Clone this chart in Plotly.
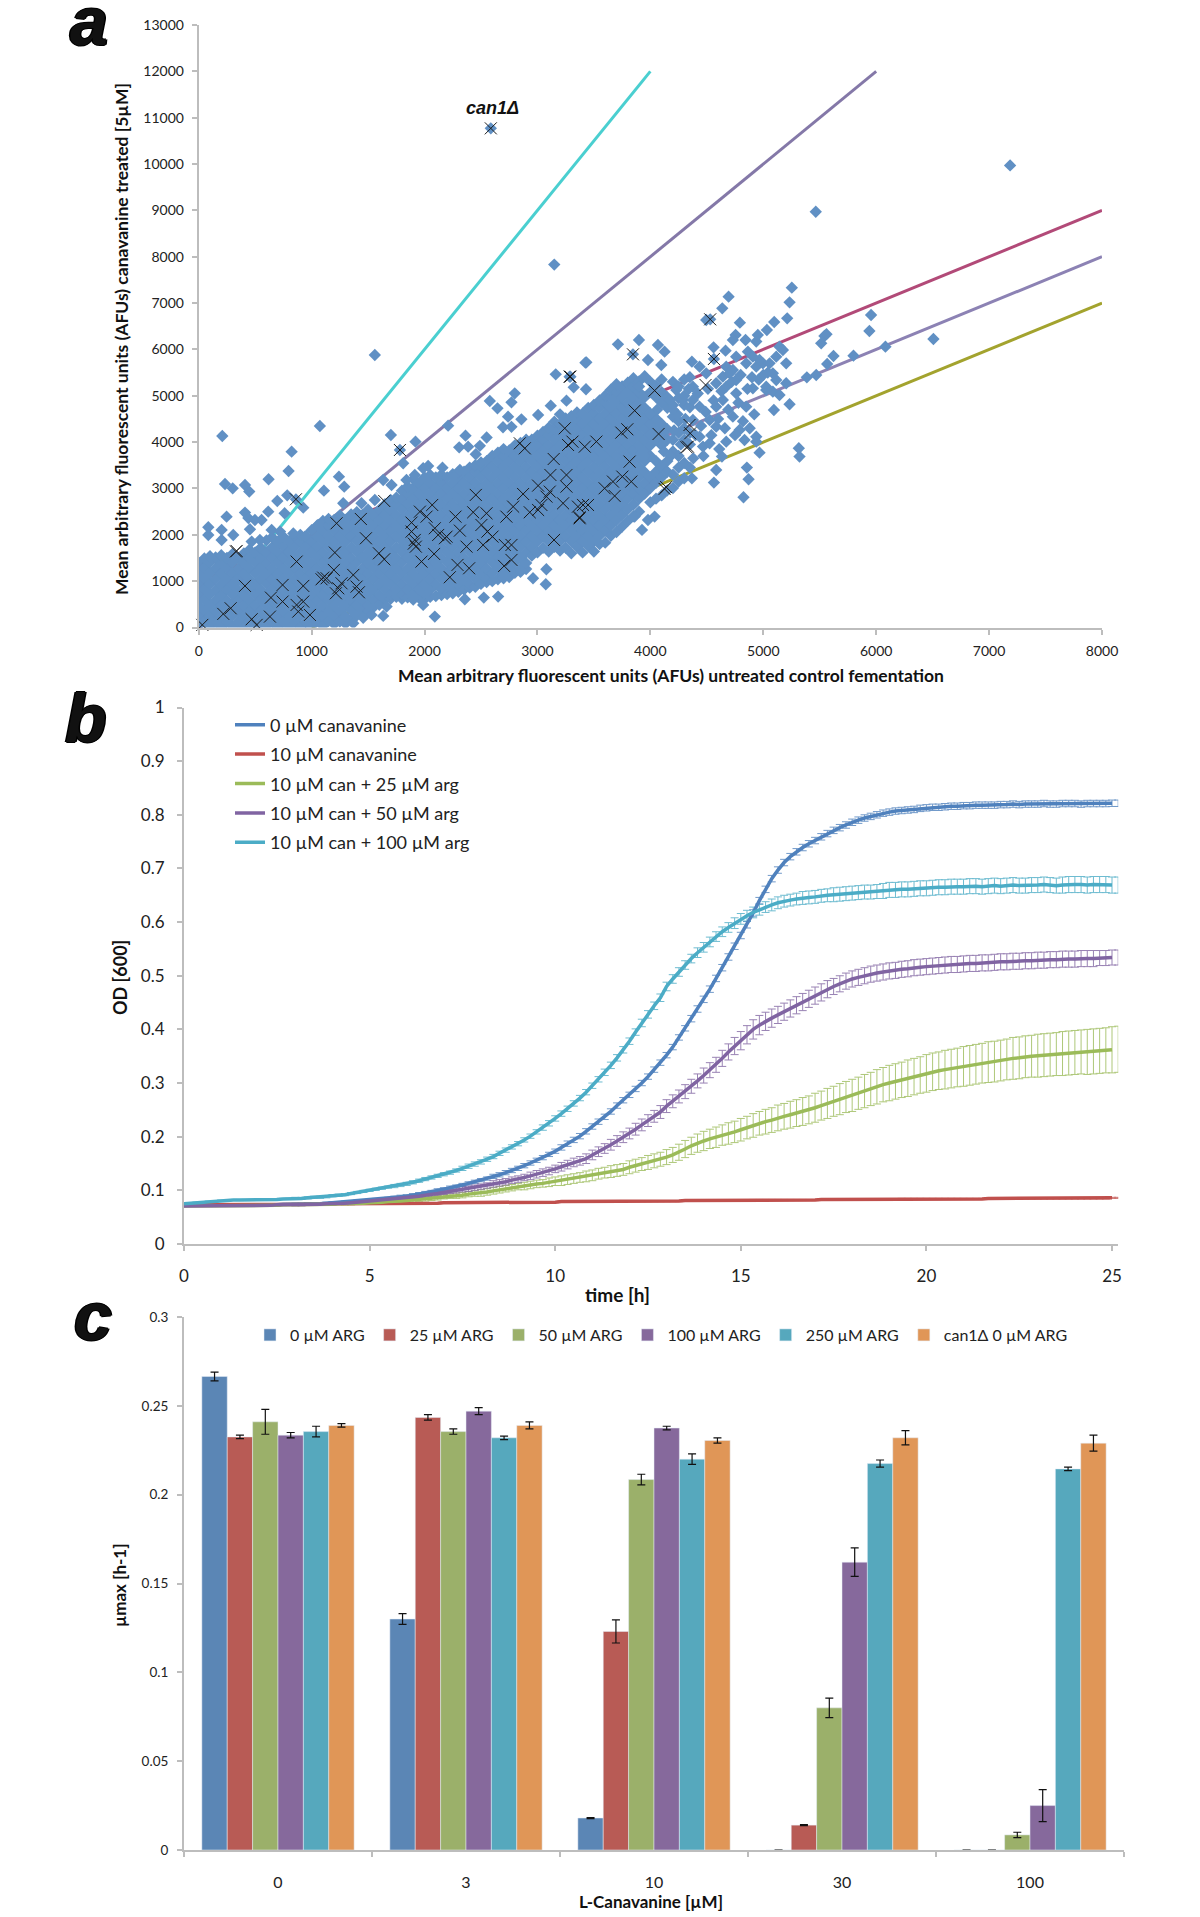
import plotly.graph_objects as go

W, H = 1200, 1917

# ---------- panel a data ----------
ref_line_names = ["3x", "2x", "+1000", "1x", "-1000"]
ref_line_x = [[0, 4000], [0, 6000], [0, 8000], [0, 8000], [1000, 8000]]
ref_line_y = [[0, 12000], [0, 12000], [1000, 9000], [0, 8000], [0, 7000]]
ref_line_colors = ["#4ACFD0", "#8478A8", "#B24A78", "#8C82B4", "#A3A32E"]

cloud_columns = [
(0,[30,260,480,710,950,1170,1400]),(50,[140,370,600,830,1060,1290,1490]),
(100,[20,250,490,720,940,1180,1410,1540]),(150,[130,360,590,810,1050,1280,1510]),
(200,[10,240,470,700,930,1160,1390,1560]),(250,[130,350,580,820,1040,1280,1500]),
(300,[20,250,480,710,930,1170,1400,1590]),(350,[120,360,590,810,1050,1270,1500]),
(400,[20,240,470,700,940,1160,1390,1600]),(450,[130,360,590,820,1040,1280,1510,1680]),
(500,[10,250,470,710,930,1170,1400,1620]),(550,[120,350,590,810,1050,1280,1500,1720]),
(600,[20,240,480,700,940,1160,1390,1620,1880]),(650,[130,360,580,820,1040,1270,1510,1730,1950]),
(700,[10,250,470,700,930,1160,1390,1620,1850]),(750,[130,350,590,810,1050,1280,1510,1740,1960]),
(800,[20,240,480,700,940,1170,1400,1630,1860]),(850,[130,360,580,820,1050,1280,1510,1740,1970]),
(900,[10,250,470,710,930,1160,1400,1620,1850,2000]),(950,[120,350,590,810,1050,1280,1510,1740,1970]),
(1000,[20,240,480,700,930,1170,1390,1630,1860,2100]),(1050,[140,360,590,820,1050,1270,1510,1740,1970,2200]),
(1100,[30,250,470,700,940,1160,1390,1620,1860,2090,2300]),(1150,[140,360,590,810,1050,1280,1500,1740,1970,2200,2340]),
(1200,[70,250,480,700,930,1170,1400,1630,1860,2090,2320]),(1250,[130,360,590,820,1040,1280,1510,1740,1970,2200,2420]),
(1300,[80,240,470,710,940,1160,1390,1620,1860,2090,2320]),(1350,[150,370,590,810,1050,1280,1500,1730,1970,2200,2440]),
(1400,[260,480,700,930,1170,1400,1630,1860,2090,2320,2490]),(1450,[370,590,820,1050,1270,1510,1740,1970,2200,2430]),
(1500,[350,480,710,930,1160,1390,1620,1860,2090,2320,2540]),(1550,[440,590,820,1050,1280,1500,1740,1970,2200,2430]),
(1600,[490,700,930,1170,1390,1630,1860,2090,2310,2540]),(1650,[600,820,1040,1280,1510,1740,1970,2200,2430,2660]),
(1700,[620,710,940,1160,1390,1620,1860,2090,2310,2540,2750]),(1750,[660,820,1050,1280,1500,1730,1970,2200,2430,2660,2800]),
(1800,[620,710,930,1170,1400,1630,1860,2090,2320,2550,2780,2950]),(1850,[650,820,1050,1270,1510,1740,1970,2200,2430,2660,2890,3040]),
(1900,[600,710,940,1160,1390,1620,1860,2090,2320,2550,2780,3010,3200]),(1950,[640,820,1050,1280,1500,1740,1970,2200,2430,2660,2890,3120]),
(2000,[610,720,930,1170,1400,1630,1860,2090,2320,2550,2780,3010,3240]),(2050,[660,820,1040,1280,1510,1740,1970,2190,2430,2660,2890,3120,3290]),
(2100,[680,930,1160,1390,1620,1860,2090,2320,2550,2780,3010,3240]),(2150,[700,820,1050,1270,1500,1730,1970,2200,2430,2660,2890,3120,3300]),
(2200,[720,940,1170,1400,1630,1860,2090,2320,2550,2780,3010,3240]),(2250,[740,830,1050,1280,1510,1740,1970,2200,2430,2660,2890,3120,3310]),
(2300,[770,930,1160,1390,1620,1860,2090,2320,2550,2780,3010,3240,3350]),(2350,[820,1040,1280,1500,1740,1970,2200,2430,2660,2890,3120,3360]),
(2400,[860,930,1170,1400,1630,1860,2090,2320,2550,2780,3010,3240,3450]),(2450,[880,1050,1280,1510,1740,1970,2200,2430,2660,2890,3120,3360,3500]),
(2500,[940,1160,1390,1620,1860,2090,2320,2550,2780,3010,3240,3470,3560]),(2550,[980,1050,1270,1500,1730,1970,2200,2430,2660,2890,3120,3360,3590]),
(2600,[1000,1170,1400,1630,1860,2090,2320,2550,2780,3010,3240,3470,3700]),(2650,[1040,1280,1510,1740,1970,2200,2430,2660,2890,3120,3360,3590,3770]),
(2700,[1060,1160,1390,1620,1860,2090,2320,2550,2780,3010,3240,3470,3700,3850]),(2750,[1090,1280,1500,1730,1970,2200,2430,2660,2890,3120,3350,3590,3820]),
(2800,[1180,1400,1630,1860,2090,2320,2550,2780,3010,3240,3470,3700,3930]),(2850,[1200,1270,1510,1740,1970,2200,2430,2660,2890,3120,3360,3590,3820,3980]),
(2900,[1260,1390,1620,1860,2090,2320,2550,2780,3010,3240,3470,3700,3930,4050]),(2950,[1550,1740,1970,2200,2430,2660,2890,3120,3350,3590,3820,4050]),
(3000,[1620,1860,2090,2320,2550,2780,3010,3240,3470,3700,3930,4140]),(3050,[1720,1970,2200,2430,2660,2890,3120,3360,3590,3820,4050,4220]),
(3100,[1640,1860,2090,2320,2550,2780,3010,3240,3470,3700,3930,4160,4310]),(3150,[1740,1970,2200,2430,2660,2890,3120,3350,3590,3820,4050,4280,4440]),
(3200,[1660,1860,2090,2320,2550,2780,3010,3240,3470,3700,3930,4160,4390,4600]),(3250,[1720,1970,2200,2430,2660,2890,3120,3360,3590,3820,4050,4280,4510]),
(3300,[1600,1860,2090,2320,2550,2780,3010,3240,3470,3700,3930,4160,4390,4560]),(3350,[1740,1970,2200,2430,2660,2890,3120,3350,3590,3820,4050,4280,4510,4640]),
(3400,[1620,1860,2090,2320,2550,2780,3010,3240,3470,3700,3930,4160,4390,4620]),(3450,[1760,1980,2200,2430,2660,2890,3120,3360,3590,3820,4050,4280,4510,4740]),
(3500,[1640,1860,2090,2320,2550,2780,3010,3240,3470,3700,3930,4160,4390,4620,4800]),(3550,[1800,1980,2200,2430,2660,2890,3120,3350,3590,3820,4050,4280,4510,4740,4900]),
(3600,[1830,2090,2320,2550,2780,3010,3240,3470,3700,3930,4160,4390,4620,4850,5000]),(3650,[1980,2200,2430,2660,2890,3120,3360,3590,3820,4050,4280,4510,4740,4970,5130]),
(3700,[2060,2320,2550,2780,3010,3240,3470,3700,3930,4160,4390,4620,4850,5080,5250]),(3750,[2180,2430,2660,2890,3120,3350,3590,3820,4050,4280,4510,4740,4970,5200]),
(3800,[2300,2550,2780,3010,3240,3470,3700,3930,4160,4390,4620,4850,5080,5280]),(3850,[2400,2650,2890,3120,3360,3590,3820,4050,4280,4510,4740,4970,5200,5380]),
(3900,[2500,2780,3010,3240,3470,3700,3930,4160,4390,4620,4850,5080,5310]),(3950,[2890,3120,3350,3590,3820,4050,4280,4510,4740,4970,5420]),
(4000,[2700,3010,3240,3700,3930,4160,4390,4620,5080,5300]),(4050,[2780,3120,3360,3590,4050,4280,4510,4970,5220]),
(4100,[2850,3240,3470,3930,4160,4390,4850,5080,5350]),(4150,[2960,3360,3590,4050,4280,4740,4970]),
(4200,[3010,3300,3800,4050,4550,4800,5300]),(4250,[3150,3450,3700,4200,4450,4950,5200]),
(4300,[3220,3550,4050,4300,4800,5350]),(4350,[3450,3950,4200,4750,5400]),
]
sparse_points = [
(2587,10770),(7186,9970),(5465,8970),(3149,7830),(1560,5880),(209,4132),(1073,4348),(823,3794),(796,3377),(619,3198),
(233,3097),(301,3003),(410,3075),(448,2932),(1242,3255),(1289,3039),(1109,2953),(1702,4154),(1782,3830),(1920,4010),
(1811,3543),(2209,4355),(2363,4140),(2307,3888),(2386,3902),(2454,3737),(2490,3920),(2550,4100),(2578,4887),(2646,4729),
(2770,4858),(2799,5053),(2740,4549),(2858,4492),(2695,4320),(2770,4330),(3118,4787),(3162,5462),(3292,5412),(3425,5714),
(3257,4894),(3321,5182),(3430,5140),(3006,4585),(696,2730),(784,2852),(861,2766),(761,2464),(926,2586),(247,2392),
(410,2479),(616,2500),(557,2320),(440,2360),(498,2320),(85,2162),(85,1997),(203,2105),(306,1997),(454,2119),
(203,1889),(469,1853),(542,1889),(646,2105),(720,2070),(838,2030),(941,1961),(1059,2212),(1221,2248),(1280,2680),
(1442,2680),(1560,2752),(1634,3183),(1708,3075),(1840,3183),(1914,3291),(1988,3435),(2032,3485),(2159,3449),(2313,3399),
(2091,235),(2357,609),(2525,645),(2652,667),(2961,1062),(3074,933),(3079,1256),(1988,487),(1664,451),(1634,250),
(1531,272),(1369,92),(1457,210),(5253,7332),(5233,7016),(5212,6671),(4693,7138),(4637,6886),(4495,6635),(4530,6649),
(4793,6577),(5097,6592),(5032,6419),(4952,6311),(4755,6311),(4731,6203),(4843,6203),(4938,6170),(5955,6743),(5940,6398),
(6507,6225),(5542,6290),(5513,6131),(5560,6330),(5622,5858),(5799,5865),(6082,6060),(5566,5686),(5469,5448),(5386,5398),
(5233,4816),(5094,4693),(5315,3867),(5321,3687),(4967,3773),(4583,3399),(4855,3450),(4870,3198),(4563,3126),(4825,2810),
(4634,3687),(4368,3219),(3926,2105),(4038,2393),(3979,2320),(3861,2393),(3713,6110),(3899,6203),(4067,6096),(4126,5952),
(3979,5772),(4097,5664),(3846,5894),(3433,5722),(3285,5413),(4368,5736),(4560,6045),(4666,5973),(4563,5794),(4864,5952),
(4760,5844),(4377,4478),(4436,4118),(4466,3903),(4436,4765),(4525,4478),(4583,4334),(4583,4765),(4642,4909),(4731,4550),
(4790,4262),(4834,4046),(4938,4118),(4938,4010),(4672,4010),(4525,3975),(4436,5628),(4495,5484),(4377,5197),(4230,5125),
(4289,4909),(4170,4909),(4377,4909),(4672,5628),(4731,5556),(4642,5412),(4760,5341),(4702,5484),(4849,5700),(4938,5628),
(4997,5700),(5056,5700),(4967,5772),(4908,5844),(5144,6060),(5174,5988),(5115,5844),(5203,5700),(5085,5484),(5115,5341),
(5026,5197),(5085,5089),(5144,5017),(5026,5125),(5203,5269),(4908,5161),(4760,5053),(4849,4765),(4672,5197),(4583,5269),
(4180,3700),(4210,4250),(4240,4600),(4270,3950),(4310,4500),(4340,5150),(4380,3650),(4400,4150),(4420,5050),(4450,4350),
(4470,3700),(4490,4650),(4510,5150),(4540,4150),(4560,4900),(4600,4500),(4610,3850),(4630,5100),(4660,4300),(4690,4700),
(4720,5300),(4750,4150),(4780,4850),(4800,5450),(4820,4450),(4860,5150),(4880,4300),(4900,5400),(4920,4600),(4960,5350),
(5000,5450),(5040,5500),(4200,4700),(4300,5000),(4120,3800),(4060,4700),(4000,4600),(3950,3700),(3900,5200),
]
cross_points = [
(2587,10770),(32,56),(218,293),(283,415),(336,1652),(330,1640),(410,897),(469,178),(513,56),(631,235),(640,645),(743,918),
(743,559),(867,1422),(861,2766),(867,487),(926,559),(882,343),(985,271),(926,897),(1103,1076),(1088,1040),(1133,1062),(1197,1242),
(1206,1616),(1221,2248),(1215,739),(1236,846),(1265,954),(1369,1134),(1398,882),(1419,760),(1436,2342),(1643,2730),(1481,1925),
(1596,1601),(1643,1472),(1959,2500),(2068,2644),(2018,2392),(1885,2263),(1885,2069),(1914,1889),(1923,1745),(1905,1810),(1973,1422),
(2085,1587),(2091,2141),(2121,1997),(2180,1925),(2195,1960),(2313,2090),(2274,2392),(2454,2860),(2431,2486),(2549,2464),(2504,2213),
(2557,2069),(2602,1961),(2519,1781),(2372,1745),(2292,1350),(2395,1278),(2224,1084),(2711,1781),(2770,1781),(2770,1458),(2705,1328),
(2725,2392),(2785,2608),(2873,2881),(2844,3974),(2888,3866),(3144,3636),(3115,3291),(3006,3061),(3109,2932),(3080,2824),(3035,2644),
(2932,2486),(3006,2536),(3242,4298),(3310,4010),(3271,3938),(3419,3902),(3257,3291),(3257,3039),(3227,2680),(3374,2356),(3404,2644),
(3147,1889),(3846,5894),(3285,5413),(4530,6649),(4563,5794),(4038,5111),(4489,5233),(3861,4679),(3522,4011),(3743,4205),(3796,4277),
(4073,4176),(4347,4370),(4353,4190),(4333,3903),(4320,3890),(3816,3579),(3752,3255),(3669,3148),(3595,3004),(3831,3148),(3684,2838),
(4126,2990),(4140,3030),(3448,2644),(3359,2608),(3374,2378),(1782,3830),(3292,5412),
]

# ---------- panel b data (one reading per 10 min) ----------
sample_hours = [k / 6 for k in range(152)]
growth_names = ["0 µM canavanine", "10 µM canavanine", "10 µM can + 25 µM arg", "10 µM can + 50 µM arg", "10 µM can + 100 µM arg"]
growth_colors = ["#4F81BD", "#C0504D", "#9BBB59", "#8064A2", "#4BACC6"]
od_0_can = [
.072,.072,.072,.072,.072,.072, .072,.072,.073,.073,.073,.073, .073,.073,.073,.073,.074,.074,
.074,.074,.075,.075,.075,.076, .077,.077,.078,.079,.080,.081, .082,.083,.084,.085,.086,.088,
.089,.091,.093,.095,.097,.100, .102,.105,.107,.110,.113,.116, .119,.122,.126,.129,.133,.137,
.141,.146,.151,.156,.161,.167, .173,.180,.187,.194,.201,.210, .219,.228,.237,.247,.258,.268,
.278,.289,.300,.312,.325,.338, .352,.367,.385,.402,.420,.438, .456,.475,.495,.515,.535,.555,
.575,.595,.617,.640,.661,.681, .697,.711,.722,.731,.739,.746, .752,.759,.765,.771,.776,.781,
.786,.790,.794,.797,.800,.803, .805,.807,.808,.809,.810,.812, .813,.814,.814,.815,.816,.816,
.817,.817,.818,.818,.818,.818, .819,.819,.820,.819,.820,.820, .820,.821,.820,.820,.821,.821,
.821,.820,.821,.821,.821,.821, .8215,.8215]
od_10_can = [
.073,.073,.073,.073,.073,.073, .073,.073,.073,.073,.073,.073, .074,.074,.074,.074,.074,.074,
.074,.074,.074,.074,.074,.074, .075,.075,.075,.075,.075,.075, .075,.075,.075,.075,.076,.076,
.076,.076,.076,.076,.076,.076, .077,.077,.077,.077,.077,.077, .077,.077,.078,.078,.078,.078,
.078,.078,.078,.078,.078,.078, .078,.079,.079,.079,.079,.079, .079,.079,.079,.079,.079,.079,
.080,.080,.080,.080,.080,.080, .080,.080,.080,.081,.081,.081, .081,.081,.081,.081,.081,.081,
.081,.081,.082,.082,.082,.082, .082,.082,.082,.082,.082,.082, .082,.083,.083,.083,.083,.083,
.083,.083,.083,.083,.083,.083, .083,.083,.084,.084,.084,.084, .084,.084,.084,.084,.084,.084,
.084,.084,.084,.084,.085,.085, .085,.085,.085,.085,.085,.085, .085,.085,.085,.085,.085,.085,
.085,.085,.085,.085,.085,.085, .086,.086]
od_25_arg = [
.071,.071,.071,.071,.071,.071, .071,.071,.071,.072,.072,.072, .072,.072,.072,.072,.073,.073,
.073,.073,.073,.074,.074,.074, .074,.075,.075,.075,.076,.076, .077,.077,.078,.079,.079,.080,
.081,.082,.083,.084,.085,.086, .088,.089,.090,.091,.093,.094, .095,.097,.099,.101,.103,.105,
.107,.108,.110,.112,.113,.115, .117,.118,.120,.122,.124,.126, .128,.131,.133,.135,.137,.139,
.143,.146,.149,.152,.155,.158, .162,.166,.171,.177,.183,.188, .192,.196,.199,.203,.206,.209,
.213,.217,.221,.225,.228,.231, .235,.238,.241,.244,.247,.250, .254,.258,.262,.266,.270,.274,
.277,.281,.285,.289,.293,.297, .300,.303,.306,.309,.312,.315, .318,.321,.323,.325,.327,.329,
.331,.333,.335,.337,.339,.340, .342,.344,.346,.347,.349,.350, .351,.352,.353,.354,.355,.356,
.357,.358,.358,.359,.360,.361, .362,.363]
od_50_arg = [
.071,.071,.071,.071,.071,.071, .071,.071,.072,.072,.072,.072, .072,.072,.072,.073,.073,.073,
.073,.073,.074,.074,.074,.075, .075,.076,.076,.077,.078,.079, .080,.081,.082,.083,.084,.085,
.086,.088,.089,.091,.092,.094, .096,.098,.100,.102,.103,.105, .107,.109,.112,.114,.116,.119,
.121,.124,.127,.130,.133,.136, .140,.144,.148,.152,.155,.159, .166,.172,.178,.185,.192,.199,
.206,.214,.222,.230,.238,.246, .257,.266,.275,.284,.294,.304, .314,.324,.334,.346,.358,.369,
.379,.390,.400,.408,.415,.421, .427,.433,.439,.445,.451,.457, .463,.469,.475,.480,.485,.490,
.494,.497,.500,.503,.505,.507, .509,.510,.512,.513,.515,.516, .517,.518,.519,.520,.521,.521,
.522,.523,.523,.524,.524,.525, .526,.526,.527,.527,.528,.528, .529,.529,.530,.530,.531,.531,
.531,.532,.532,.532,.533,.533, .534,.534]
od_100_arg = [
.075,.076,.077,.078,.079,.080, .081,.081,.082,.082,.082,.082, .083,.083,.083,.083,.084,.084,
.085,.085,.086,.087,.087,.088, .090,.091,.092,.094,.096,.098, .100,.102,.104,.106,.108,.110,
.112,.115,.118,.121,.124,.127, .130,.133,.137,.141,.145,.149, .153,.158,.163,.169,.175,.181,
.187,.194,.201,.209,.217,.225, .234,.243,.252,.262,.272,.283, .295,.307,.320,.333,.347,.362,
.378,.395,.412,.428,.444,.459, .480,.494,.507,.520,.532,.543, .553,.563,.573,.582,.590,.598,
.606,.612,.618,.623,.628,.632, .636,.639,.641,.643,.645,.646, .647,.649,.650,.651,.652,.653,
.654,.655,.656,.656,.657,.658, .660,.660,.661,.661,.662,.663, .663,.664,.665,.665,.666,.666,
.666,.667,.667,.666,.667,.668, .667,.668,.669,.668,.668,.669, .669,.670,.669,.668,.669,.670,
.670,.670,.669,.670,.670,.670, .669,.669]
sd_0_can = [
.001,.001,.001,.001,.001,.001, .001,.001,.001,.001,.001,.001, .001,.001,.001,.001,.001,.001,
.002,.002,.002,.002,.002,.002, .002,.002,.002,.002,.002,.002, .002,.002,.002,.002,.003,.003,
.003,.003,.003,.003,.003,.003, .003,.003,.003,.003,.003,.003, .003,.003,.004,.004,.004,.004,
.004,.004,.004,.004,.004,.004, .004,.005,.005,.005,.005,.005, .005,.005,.005,.005,.005,.005,
.005,.005,.005,.005,.005,.005, .005,.005,.005,.005,.006,.006, .006,.006,.006,.006,.006,.006,
.006,.006,.006,.006,.006,.006, .006,.006,.006,.006,.006,.006, .006,.006,.006,.006,.006,.006,
.006,.006,.006,.006,.006,.006, .006,.006,.006,.006,.006,.006, .006,.006,.006,.006,.006,.006,
.006,.006,.006,.006,.006,.006, .006,.006,.006,.006,.006,.006, .006,.006,.006,.006,.006,.006,
.006,.006,.006,.006,.006,.006, .006,.006]
sd_10_can = [
.001,.001,.001,.001,.001,.001, .001,.001,.001,.001,.001,.001, .001,.001,.001,.001,.001,.001,
.001,.001,.001,.001,.001,.001, .001,.001,.001,.001,.001,.001, .001,.001,.001,.001,.001,.001,
.001,.001,.001,.001,.001,.001, .001,.001,.001,.001,.001,.001, .001,.001,.001,.001,.001,.001,
.001,.001,.001,.001,.001,.001, .001,.001,.001,.001,.001,.001, .001,.001,.001,.001,.001,.001,
.001,.001,.001,.001,.001,.001, .001,.001,.001,.001,.001,.001, .001,.001,.001,.001,.001,.001,
.001,.001,.001,.001,.001,.001, .001,.001,.001,.001,.001,.001, .001,.001,.001,.001,.001,.001,
.001,.001,.001,.001,.001,.001, .001,.001,.001,.001,.001,.001, .001,.001,.001,.001,.001,.001,
.001,.001,.001,.001,.001,.001, .001,.001,.001,.001,.001,.001, .001,.001,.001,.001,.001,.001,
.001,.001,.001,.001,.001,.001, .001,.001]
sd_25_arg = [
.001,.001,.001,.001,.001,.001, .001,.001,.001,.001,.001,.001, .001,.001,.001,.001,.001,.001,
.001,.001,.001,.001,.001,.001, .001,.001,.002,.002,.002,.002, .003,.003,.003,.003,.003,.003,
.004,.004,.004,.004,.004,.004, .004,.004,.005,.005,.005,.005, .006,.006,.006,.006,.006,.006,
.006,.007,.007,.007,.007,.008, .008,.009,.009,.009,.009,.010, .010,.010,.010,.011,.011,.011,
.012,.012,.012,.013,.013,.013, .014,.014,.015,.016,.016,.017, .018,.018,.019,.019,.020,.020,
.021,.021,.022,.022,.023,.023, .024,.024,.025,.025,.026,.026, .027,.027,.028,.028,.029,.029,
.030,.030,.031,.031,.032,.032, .033,.033,.033,.034,.034,.034, .035,.035,.035,.036,.036,.036,
.037,.037,.037,.037,.038,.038, .038,.038,.039,.039,.039,.039, .040,.040,.040,.040,.041,.041,
.041,.041,.042,.042,.042,.042, .043,.043]
sd_50_arg = [
.001,.001,.001,.001,.001,.001, .001,.001,.001,.001,.001,.001, .001,.001,.001,.001,.001,.001,
.002,.002,.002,.002,.002,.002, .002,.002,.002,.002,.002,.002, .002,.002,.003,.003,.003,.003,
.003,.003,.004,.004,.004,.004, .004,.004,.005,.005,.005,.005, .005,.005,.006,.006,.006,.006,
.006,.006,.007,.007,.007,.007, .007,.008,.008,.008,.008,.009, .009,.009,.009,.010,.010,.010,
.010,.011,.011,.011,.011,.012, .012,.012,.012,.013,.013,.013, .014,.014,.014,.015,.015,.016,
.017,.017,.018,.018,.017,.017, .016,.016,.016,.016,.016,.016, .016,.016,.016,.015,.015,.015,
.015,.015,.015,.015,.015,.015, .015,.015,.015,.015,.015,.015, .015,.015,.015,.015,.015,.015,
.015,.015,.015,.015,.015,.015, .015,.015,.015,.015,.015,.015, .015,.015,.015,.015,.015,.015,
.015,.015,.015,.015,.014,.014, .014,.014]
sd_100_arg = [
.001,.001,.001,.001,.001,.001, .001,.001,.001,.001,.001,.001, .001,.001,.001,.001,.001,.001,
.002,.002,.002,.002,.002,.002, .002,.002,.002,.002,.002,.002, .002,.002,.002,.002,.003,.003,
.003,.003,.003,.003,.003,.003, .003,.003,.003,.004,.004,.004, .004,.004,.004,.004,.004,.004,
.004,.004,.004,.004,.005,.005, .005,.005,.005,.005,.005,.005, .005,.005,.006,.006,.006,.006,
.006,.006,.007,.007,.007,.007, .008,.008,.008,.008,.008,.009, .009,.009,.009,.009,.009,.010,
.010,.010,.010,.010,.010,.011, .011,.011,.011,.011,.012,.012, .012,.012,.012,.013,.013,.013,
.013,.013,.013,.013,.013,.014, .014,.014,.014,.014,.014,.014, .014,.014,.014,.014,.014,.014,
.014,.014,.014,.014,.014,.014, .014,.014,.014,.014,.014,.014, .014,.014,.014,.014,.015,.015,
.015,.015,.015,.015,.015,.015, .015,.015]
od_series = [od_0_can, od_10_can, od_25_arg, od_50_arg, od_100_arg]
sd_series = [sd_0_can, sd_10_can, sd_25_arg, sd_50_arg, sd_100_arg]

# ---------- panel c data ----------
canavanine_labels = ["0", "3", "10", "30", "100"]
arg_names = ["0 µM ARG", "25 µM ARG", "50 µM ARG", "100 µM ARG", "250 µM ARG", "can1Δ 0 µM ARG"]
arg_colors = ["#5B86B5", "#B85B55", "#9BB06A", "#86699C", "#56A8BD", "#E09657"]
umax_values = [
    [.2665, .130, .018, 0, 0],
    [.2325, .2435, .123, .014, 0],
    [.241, .2355, .2085, .080, .0085],
    [.2335, .247, .2375, .162, .025],
    [.2355, .232, .220, .2175, .2145],
    [.239, .239, .2305, .232, .229],
]
umax_errors = [
    [.0025, .003, .0003, 0, 0],
    [.001, .0015, .0065, .0003, 0],
    [.007, .0015, .003, .0055, .0015],
    [.0015, .002, .001, .008, .009],
    [.003, .001, .003, .002, .001],
    [.001, .002, .0015, .004, .0045],
]

# ---------- figure ----------
def dx(a, b): return [a / W, b / W]
def dy(top, bottom): return [1 - bottom / H, 1 - top / H]
FONT = "Lato"
INK = "#222222"
AXIS = "#BDBDBD"

fig = go.Figure()
for name, xs, ys, col in zip(ref_line_names, ref_line_x, ref_line_y, ref_line_colors):
    fig.add_trace(go.Scatter(x=xs, y=ys, mode="lines", name=name, showlegend=False,
                             line=dict(color=col, width=3), xaxis="x", yaxis="y"))
cloud_x = [x for x, ys in cloud_columns for _ in ys] + [p[0] for p in sparse_points]
cloud_y = [y for _, ys in cloud_columns for y in ys] + [p[1] for p in sparse_points]
fig.add_trace(go.Scatter(x=cloud_x, y=cloud_y, mode="markers", showlegend=False,
                         marker=dict(symbol="diamond", size=9.5, color="#6090C4"), xaxis="x", yaxis="y"))
fig.add_trace(go.Scatter(x=[p[0] for p in cross_points], y=[p[1] for p in cross_points], mode="markers",
                         showlegend=False, cliponaxis=False,
                         marker=dict(symbol="x-thin", size=12, line=dict(color="#1A1A1A", width=1)),
                         xaxis="x", yaxis="y"))

for name, col, ods, sds in zip(growth_names, growth_colors, od_series, sd_series):
    fig.add_trace(go.Scatter(x=sample_hours, y=ods, mode="markers", showlegend=False, cliponaxis=False,
                             marker=dict(size=1, color=col, opacity=0),
                             error_y=dict(type="data", array=sds, color=col, thickness=1, width=4),
                             opacity=0.8, xaxis="x2", yaxis="y2"))
for name, col, ods in zip(growth_names, growth_colors, od_series):
    fig.add_trace(go.Scatter(x=sample_hours[:151], y=ods[:151], mode="lines", name=name, legend="legend", legendgroup=name,
                             line=dict(color=col, width=3.5), xaxis="x2", yaxis="y2"))

for name, col, vals, errs in zip(arg_names, arg_colors, umax_values, umax_errors):
    fig.add_trace(go.Bar(x=canavanine_labels, y=vals, name=name, legend="legend2", marker=dict(color=col),
                         error_y=dict(type="data", array=errs, color="#111111", thickness=1.2, width=4),
                         xaxis="x3", yaxis="y3"))

def axis(domain, anchor, size, standoff, **kw):
    return dict(domain=domain, anchor=anchor, showgrid=False, zeroline=False, showline=True,
                linecolor=AXIS, linewidth=2, ticks="outside", ticklen=5, tickcolor=AXIS, tickwidth=1.5,
                ticklabelstandoff=standoff,
                tickfont=dict(family=FONT, size=size, color=INK), **kw)

def text(px, py, s, size, angle=0, family=FONT, **font):
    return dict(x=px / W, y=1 - py / H, xref="paper", yref="paper", text=s, showarrow=False, textangle=angle,
                xanchor="center", yanchor="middle", font=dict(family=family, size=size, color="#111111", **font))

THICK = "1.5px 0 0 #000, -1.5px 0 0 #000, 0 1px 0 #000, 0 -1px 0 #000"
annotations = [
    text(671, 675, "Mean arbitrary fluorescent units (AFUs) untreated control fementation", 17.5, weight="bold"),
    text(121, 339, "Mean arbitrary fluorescent units (AFUs) canavanine treated [5µM]", 17.5, angle=-90, weight="bold"),
    text(617, 1294, "time [h]", 19, weight="bold"),
    text(120, 978, "OD [600]", 18, angle=-90, weight="bold"),
    text(651, 1901, "L-Canavanine [µM]", 17, weight="bold"),
    text(119, 1585, "µmax [h-1]", 17, angle=-90, weight="bold"),
    text(89, 21, "a", 68, family="Liberation Sans", weight="bold", style="italic", shadow=THICK),
    text(86, 718, "b", 68, family="Liberation Sans", weight="bold", style="italic", shadow=THICK),
    text(93, 1316, "c", 68, family="Liberation Sans", weight="bold", style="italic", shadow=THICK),
    dict(x=2600, y=11200, xref="x", yref="y", text="can1Δ", showarrow=False,
         font=dict(family="Liberation Sans", size=18, weight="bold", style="italic", color="#111111")),
]

fig.update_layout(
    width=W, height=H, margin=dict(l=0, r=0, t=0, b=0, autoexpand=False), paper_bgcolor="white", plot_bgcolor="white",
    barmode="group", bargap=0.19, bargroupgap=0, annotations=annotations,
    xaxis=axis(dx(198.7, 1102), "y", 14, 5, range=[0, 8000], dtick=1000, tickformat="d"),
    yaxis=axis(dy(25, 627.5), "x", 14, 5, range=[0, 13000], dtick=1000, tickformat="d"),
    xaxis2=axis(dx(184, 1118.2), "y2", 17, 11, range=[0, sample_hours[-1]], dtick=5),
    yaxis2=axis(dy(707.5, 1244), "x2", 17, 9, range=[0, 1], dtick=0.1),
    xaxis3=axis(dx(184, 1124), "y3", 16, 17, type="category", tickson="boundaries"),
    yaxis3=axis(dy(1317, 1850), "x3", 13.5, 6, range=[0, 0.3], dtick=0.05),
    legend=dict(x=230 / W, y=1 - 706.5 / H, xanchor="left", yanchor="top", bgcolor="rgba(0,0,0,0)",
                font=dict(family=FONT, size=18, color=INK), tracegroupgap=3, itemwidth=30),
    legend2=dict(x=250 / W, y=1 - 1318 / H, xanchor="left", yanchor="top", orientation="h",
                 bgcolor="rgba(0,0,0,0)", font=dict(family=FONT, size=16, color=INK)),
)

fig.write_html("out.html", config=dict(displayModeBar=False), post_script="document.body.style.margin='0';")
